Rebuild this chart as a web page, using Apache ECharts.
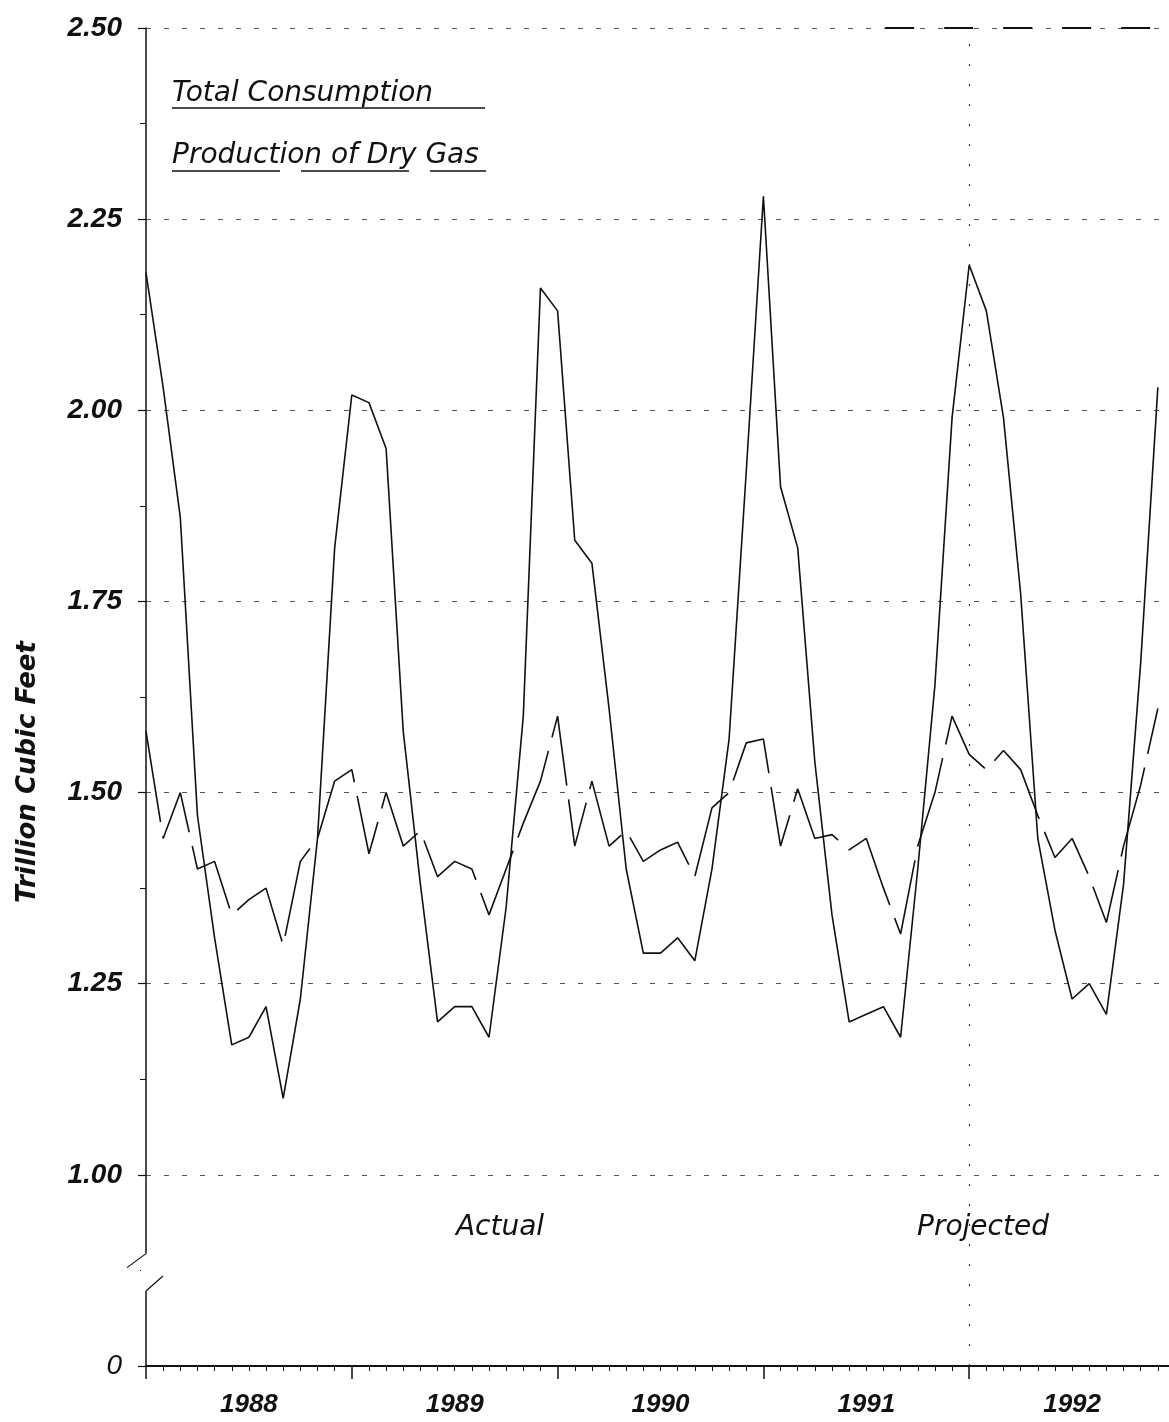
<!DOCTYPE html>
<html>
<head>
<meta charset="utf-8">
<title>Total Consumption and Production of Dry Gas</title>
<script src="https://cdn.jsdelivr.net/npm/echarts@6/dist/echarts.min.js"></script>
<style>
html, body { margin: 0; padding: 0; background: #fff; }
#main { width: 1169px; height: 1422px; }
</style>
</head>
<body>
<div id="main"></div>
<script>
// monthly values, Jan 1988 .. Dec 1992, trillion cubic feet
var years = ['1988', '1989', '1990', '1991', '1992'];
var consumption = [
	2.18, 2.03, 1.86, 1.47, 1.31, 1.17, 1.18, 1.22, 1.10, 1.23, 1.44, 1.82,
	2.02, 2.01, 1.95, 1.58, 1.38, 1.20, 1.22, 1.22, 1.18, 1.35, 1.60, 2.16,
	2.13, 1.83, 1.80, 1.61, 1.40, 1.29, 1.29, 1.31, 1.28, 1.40, 1.57, 1.92,
	2.28, 1.90, 1.82, 1.54, 1.34, 1.20, 1.21, 1.22, 1.18, 1.40, 1.64, 1.99,
	2.19, 2.13, 1.99, 1.76, 1.44, 1.32, 1.23, 1.25, 1.21, 1.38, 1.67, 2.03
];
var production = [
	1.58, 1.44, 1.50, 1.40, 1.41, 1.34, 1.36, 1.375, 1.30, 1.41, 1.44, 1.515,
	1.53, 1.42, 1.50, 1.43, 1.45, 1.39, 1.41, 1.40, 1.34, 1.40, 1.46, 1.515,
	1.60, 1.43, 1.515, 1.43, 1.45, 1.41, 1.425, 1.435, 1.39, 1.48, 1.50, 1.565,
	1.57, 1.43, 1.505, 1.44, 1.445, 1.425, 1.44, 1.375, 1.315, 1.43, 1.50, 1.60,
	1.55, 1.53, 1.555, 1.53, 1.47, 1.415, 1.44, 1.39, 1.33, 1.43, 1.51, 1.61
];
var projectedFrom = 48; // Jan 1992

var LAB = '"Liberation Sans", Arial, sans-serif';
var TXT = '"DejaVu Sans", sans-serif';
var INK = '#111';

function pairs(arr) {
	return arr.map(function(v, i) { return [i, v]; });
}

var chart = echarts.init(document.getElementById('main'));
var option = {
	animation: false,
	backgroundColor: '#fff',
	// plot runs a little past the right edge of the page, like the scan
	grid: { left: 146, width: 1029, top: 28, bottom: 56, outerBoundsMode: 'none', containLabel: false },
	xAxis: [{
		type: 'value', min: 0, max: 60, interval: 12,
		axisLine: { show: true, lineStyle: { color: INK, width: 2 } },
		axisTick: { show: true, length: 13, lineStyle: { color: INK, width: 1.5 } },
		minorTick: { show: true, splitNumber: 12, length: 5, lineStyle: { color: INK, width: 1 } },
		axisLabel: { show: false },
		splitLine: { show: false }
	}, {
		type: 'value', position: 'bottom', min: 0, max: 60, interval: 6,
		axisLine: { show: false },
		axisTick: { show: false },
		splitLine: { show: false },
		axisLabel: {
			margin: 26,
			fontFamily: LAB, fontSize: 26, fontStyle: 'italic', fontWeight: 'bold', color: INK,
			formatter: function(v) {
				return v % 12 === 6 ? years[(v - 6) / 12] : '';
			}
		}
	}],
	yAxis: {
		type: 'value', min: 0.75, max: 2.5, interval: 0.25,
		axisLine: { show: true, lineStyle: { color: INK, width: 1.5 } },
		axisTick: { show: true, length: 8, lineStyle: { color: INK, width: 1.2 } },
		minorTick: { show: true, splitNumber: 2, length: 6, lineStyle: { color: INK, width: 1 } },
		splitLine: { show: true, lineStyle: { color: '#555', width: 1, type: [5, 13] } },
		axisLabel: {
			margin: 24,
			formatter: function(v) {
				return v === 0.75 ? '{z|0}' : '{b|' + v.toFixed(2) + '}';
			},
			rich: {
				b: { fontFamily: LAB, fontSize: 28, fontStyle: 'italic', fontWeight: 'bold', color: INK },
				z: { fontFamily: LAB, fontSize: 28, fontStyle: 'italic', color: INK }
			}
		}
	},
	series: [{
		name: 'Total Consumption',
		type: 'line',
		data: pairs(consumption),
		showSymbol: false,
		lineStyle: { color: INK, width: 1.6 },
		markLine: {
			silent: true,
			symbol: ['none', 'none'],
			label: { show: false },
			data: [
				{ xAxis: projectedFrom, lineStyle: { color: '#333', width: 1.2, type: [2, 18] } },
				[{ coord: [43.1, 2.5], lineStyle: { color: INK, width: 2, type: [29, 30] } }, { coord: [60, 2.5] }]
			]
		}
	}, {
		name: 'Production of Dry Gas',
		type: 'line',
		data: pairs(production),
		showSymbol: false,
		lineStyle: { color: INK, width: 1.6, type: [92, 14] }
	}]
};
chart.setOption(option);

// decorations: legend, captions, axis title and the broken y axis
var x0 = chart.convertToPixel({ xAxisIndex: 0 }, 0);
var yTop = chart.convertToPixel({ yAxisIndex: 0 }, 0.897);
var yBot = chart.convertToPixel({ yAxisIndex: 0 }, 0.848);

function txt(s, x, y, font, align) {
	return {
		type: 'text', x: x, y: y, z: 10,
		style: { text: s, font: font, fill: INK, textAlign: align || 'left', align: align || 'left', textVerticalAlign: 'middle', verticalAlign: 'middle' }
	};
}
function seg(x1, y1, x2, y2, w, dash) {
	return {
		type: 'line', z: 10,
		shape: { x1: x1, y1: y1, x2: x2, y2: y2 },
		style: { stroke: INK, lineWidth: w, lineDash: dash || null }
	};
}

chart.setOption({
	graphic: [
		txt('Total Consumption', 172, 94, 'italic 28px ' + TXT),
		seg(172, 108, 485, 108, 1.5),
		txt('Production of Dry Gas', 172, 156, 'italic 28px ' + TXT),
		seg(172, 171, 486, 171, 1.5, [108, 21]),
		txt('Actual', 500, 1228, 'italic 28px ' + TXT, 'center'),
		txt('Projected', 983, 1228, 'italic 28px ' + TXT, 'center'),
		{
			type: 'text', x: 28, y: 772, rotation: Math.PI / 2, z: 10,
			style: { text: 'Trillion Cubic Feet', font: 'italic bold 26px ' + TXT, fill: INK, textAlign: 'center', align: 'center', textVerticalAlign: 'middle', verticalAlign: 'middle' }
		},
		{
			type: 'rect', z: 9,
			shape: { x: x0 - 5, y: yTop, width: 10, height: yBot - yTop },
			style: { fill: '#fff' }
		},
		seg(x0, yTop, x0 - 19, yTop + 14, 1.2),
		seg(x0 + 17, yBot - 15, x0, yBot, 1.2)
	]
});
</script>
</body>
</html>
